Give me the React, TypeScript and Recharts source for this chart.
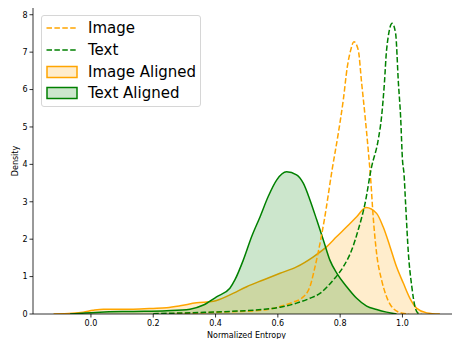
import React from 'react';
import { ComposedChart, Area, Line, XAxis, YAxis } from 'recharts';

// KDE curves: [normalized entropy, density]
const imagePoints: [number, number][] = [
  [0.25, 0.01], [0.35, 0.03], [0.45, 0.06], [0.55, 0.1], [0.607, 0.2], [0.65, 0.32],
  [0.676, 0.42], [0.703, 0.73], [0.717, 1.18], [0.73, 1.67], [0.749, 2.51], [0.775, 3.9],
  [0.794, 4.83], [0.81, 5.72], [0.823, 6.61], [0.834, 7.06], [0.844, 7.28], [0.858, 7.06],
  [0.869, 6.17], [0.88, 5.28], [0.89, 4.39], [0.898, 3.6], [0.906, 2.6], [0.917, 1.62],
  [0.933, 0.91], [0.949, 0.46], [0.97, 0.15], [1.0, 0.02], [1.02, 0],
];
const textPoints: [number, number][] = [
  [0.2, 0.01], [0.35, 0.04], [0.45, 0.07], [0.55, 0.12], [0.607, 0.18], [0.66, 0.29],
  [0.703, 0.42], [0.735, 0.55], [0.778, 0.91], [0.81, 1.26], [0.837, 1.71], [0.858, 2.25],
  [0.88, 2.96], [0.9, 3.9], [0.922, 4.65], [0.933, 5.28], [0.942, 6.17], [0.949, 7.06],
  [0.967, 7.77], [0.978, 7.5], [0.987, 6.17], [0.994, 5.28], [1.0, 4.12], [1.005, 3.74],
  [1.01, 2.96], [1.019, 1.62], [1.03, 0.73], [1.04, 0.2], [1.05, 0.02], [1.06, 0],
];
const imageAlignedPoints: [number, number][] = [
  [-0.12, 0], [-0.06, 0.02], [-0.025, 0.05], [0.007, 0.1], [0.04, 0.13], [0.08, 0.13],
  [0.136, 0.13], [0.2, 0.15], [0.243, 0.17], [0.286, 0.22], [0.339, 0.3], [0.393, 0.34],
  [0.446, 0.51], [0.5, 0.73], [0.553, 0.91], [0.607, 1.09], [0.66, 1.26], [0.714, 1.53],
  [0.757, 1.8], [0.789, 2.07], [0.821, 2.33], [0.853, 2.6], [0.883, 2.85], [0.917, 2.69],
  [0.938, 2.33], [0.96, 1.8], [0.981, 1.26], [1.003, 0.82], [1.024, 0.42], [1.046, 0.15],
  [1.078, 0.03], [1.12, 0],
];
const textAlignedPoints: [number, number][] = [
  [-0.067, 0], [-0.02, 0.03], [0.029, 0.05], [0.136, 0.07], [0.243, 0.09], [0.318, 0.13],
  [0.361, 0.24], [0.403, 0.46], [0.446, 0.69], [0.462, 0.91], [0.489, 1.44], [0.516, 2.07],
  [0.543, 2.6], [0.569, 3.14], [0.596, 3.58], [0.628, 3.8], [0.66, 3.72], [0.682, 3.49],
  [0.703, 3.05], [0.725, 2.51], [0.746, 1.98], [0.767, 1.44], [0.789, 1.09], [0.821, 0.73],
  [0.853, 0.42], [0.885, 0.21], [0.917, 0.12], [0.949, 0.05], [0.981, 0],
];

const xTicks = [0, 0.2, 0.4, 0.6, 0.8, 1.0];
const yTicks = [0, 1, 2, 3, 4, 5, 6, 7, 8];

const ORANGE = '#FFA500';
const GREEN = '#008000';
const FONT = '"DejaVu Sans", sans-serif';

const toRows = (pts: [number, number][]) => pts.map(([x, y]) => ({ x, y }));

const legendItems = [
  { name: 'Image', color: ORANGE, kind: 'line' },
  { name: 'Text', color: GREEN, kind: 'line' },
  { name: 'Image Aligned', color: ORANGE, kind: 'patch' },
  { name: 'Text Aligned', color: GREEN, kind: 'patch' },
];

const LegendBox = () => (
  <div
    style={{
      position: 'absolute',
      left: 41,
      top: 15,
      width: 158,
      height: 90,
      border: '1px solid #d6d6d6',
      borderRadius: 3,
      background: 'rgba(255,255,255,0.8)',
      fontFamily: FONT,
      fontSize: 15,
      color: '#000',
    }}
  >
    {legendItems.map((it, i) => (
      <div
        key={it.name}
        style={{ position: 'absolute', left: 4, top: 2 + i * 21.8, height: 20, display: 'flex', alignItems: 'center' }}
      >
        <svg width={32} height={14} style={{ display: 'block' }}>
          {it.kind === 'line' ? (
            <line x1={0.5} y1={7} x2={31} y2={7} stroke={it.color} strokeWidth={1.5} strokeDasharray="5.5 2.4" />
          ) : (
            <rect x={1} y={1.5} width={30} height={11} fill={it.color} fillOpacity={0.2} stroke={it.color} strokeWidth={1.5} />
          )}
        </svg>
        <span style={{ marginLeft: 10, whiteSpace: 'nowrap', lineHeight: '20px' }}>{it.name}</span>
      </div>
    ))}
  </div>
);

export default function App() {
  const tickStyle = { fontSize: 8, fill: '#000', fontFamily: FONT };
  return (
    <div style={{ position: 'absolute', left: 0, top: 0, width: 456, height: 339, background: '#fff' }}>
      <ComposedChart width={456} height={339} margin={{ top: 8, right: 4, bottom: 0, left: 0 }}>
        <XAxis
          type="number"
          dataKey="x"
          domain={[-0.186, 1.159]}
          ticks={xTicks}
          allowDataOverflow
          tickFormatter={(v: number) => v.toFixed(1)}
          tick={tickStyle}
          tickSize={3.5}
          tickMargin={2.5}
          stroke="#000"
          strokeWidth={0.8}
          height={25}
          label={{ value: 'Normalized Entropy', position: 'insideBottom', offset: 1, dx: 4, style: { fontSize: 8, fill: '#000', fontFamily: FONT } }}
        />
        <YAxis
          type="number"
          dataKey="y"
          domain={[0, 8.18]}
          ticks={yTicks}
          allowDataOverflow
          tick={tickStyle}
          tickSize={3.5}
          tickMargin={2}
          stroke="#000"
          strokeWidth={0.8}
          width={33}
          label={{ value: 'Density', angle: -90, position: 'insideLeft', offset: 15, style: { fontSize: 8, fill: '#000', fontFamily: FONT, textAnchor: 'middle' } }}
        />
        <Area
          data={toRows(imageAlignedPoints)}
          dataKey="y"
          type="monotone"
          stroke={ORANGE}
          strokeWidth={1.5}
          fill={ORANGE}
          fillOpacity={0.2}
          dot={false}
          activeDot={false}
          isAnimationActive={false}
        />
        <Area
          data={toRows(textAlignedPoints)}
          dataKey="y"
          type="monotone"
          stroke={GREEN}
          strokeWidth={1.5}
          fill={GREEN}
          fillOpacity={0.2}
          dot={false}
          activeDot={false}
          isAnimationActive={false}
        />
        <Line
          data={toRows(imagePoints)}
          dataKey="y"
          type="monotone"
          stroke={ORANGE}
          strokeWidth={1.5}
          strokeDasharray="5.5 2.4"
          dot={false}
          activeDot={false}
          isAnimationActive={false}
        />
        <Line
          data={toRows(textPoints)}
          dataKey="y"
          type="monotone"
          stroke={GREEN}
          strokeWidth={1.5}
          strokeDasharray="5.5 2.4"
          dot={false}
          activeDot={false}
          isAnimationActive={false}
        />
      </ComposedChart>
      <LegendBox />
    </div>
  );
}
